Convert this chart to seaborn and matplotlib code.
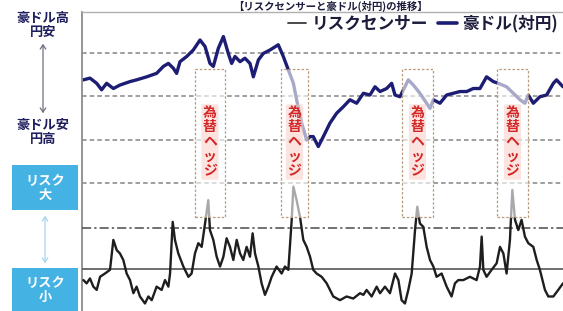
import matplotlib
matplotlib.use("Agg")
import matplotlib.pyplot as plt
import seaborn as sns
from matplotlib.patches import Rectangle, FancyArrowPatch
from matplotlib.lines import Line2D

# ---------------- data ----------------
aud_week = [1.0, 5.7, 10.5, 14.0, 17.6, 22.4, 27.1, 34.3, 39.0, 46.2, 53.3, 58.1,
            61.7, 65.2, 67.6, 70.0, 74.8, 79.5, 84.3, 87.9, 91.4, 93.8, 97.4, 101.0,
            104.5, 106.9, 109.3, 112.9, 116.4, 120.0, 122.4, 126.0, 129.5, 134.3,
            140.2, 143.8, 147.4, 151.0, 153.3, 156.9, 160.5, 162.9, 165.2, 168.8,
            172.4, 177.1, 181.9, 186.7, 191.4, 196.2, 201.0, 205.7, 209.3, 212.9,
            217.6, 221.2, 223.6, 227.1, 230.7, 233.1, 236.7, 241.4, 246.2, 248.6,
            251.0, 255.7, 260.5, 265.2, 270.0, 274.8, 279.5, 284.3, 289.0, 293.8,
            297.4, 303.3, 308.1, 312.9, 316.4, 318.8, 322.4, 327.1, 331.9, 336.7,
            339.0, 343.6]
aud_level = [93.8, 94.2, 93.0, 91.5, 93.0, 91.8, 92.6, 93.4, 93.8, 94.5, 95.3, 96.9,
             97.6, 96.5, 95.3, 98.0, 99.2, 100.7, 103.0, 101.5, 97.6, 96.9, 101.1, 103.8,
             99.9, 97.6, 99.2, 98.0, 98.8, 97.6, 94.5, 98.4, 99.9, 100.7,
             101.9, 99.2, 96.1, 93.0, 89.2, 83.8, 79.9, 80.7, 80.7, 78.4,
             80.7, 83.8, 86.1, 87.6, 89.2, 88.4, 90.7, 90.3, 92.2, 91.1,
             91.8, 93.0, 90.3, 89.9, 92.2, 93.8, 92.6, 90.7, 88.4, 87.2,
             89.2, 88.4, 90.3, 90.7, 91.1, 91.1, 91.8, 91.8, 94.5, 93.4,
             93.0, 92.2, 90.7, 89.2, 88.4, 90.3, 88.4, 89.9, 90.3, 93.0,
             93.8, 92.2]

risk_week = [1.0, 3.3, 5.7, 8.1, 10.5, 12.9, 16.4, 20.0, 22.4, 24.8, 27.1, 29.5,
             31.9, 34.3, 36.7, 39.0, 41.4, 45.0, 47.4, 49.8, 53.3, 56.9, 59.3, 61.7,
             62.9, 64.8, 66.4, 68.8, 72.4, 76.0, 78.3, 80.7, 83.1, 85.5, 87.9, 90.2,
             91.4, 93.8, 96.2, 98.6, 101.0, 103.3, 105.7, 108.1, 110.5, 112.9, 115.2,
             117.6, 120.0, 121.9, 123.6, 126.0, 128.3, 130.7, 133.1, 135.5, 139.0,
             142.6, 145.0, 147.4, 149.8, 151.0, 153.3, 155.7, 158.1, 160.5, 162.9,
             165.2, 167.6, 171.2, 174.8, 179.5, 184.3, 189.0, 193.8, 198.6, 201.0,
             203.3, 206.9, 210.5, 212.9, 216.4, 220.0, 223.6, 226.0, 228.3, 230.7,
             233.1, 235.5, 237.9, 239.5, 241.4, 243.8, 246.2, 248.6, 251.0, 253.3,
             256.9, 260.5, 264.0, 266.4, 268.8, 272.4, 277.1, 281.9, 284.3, 285.5,
             286.7, 289.0, 292.6, 296.2, 298.6, 301.0, 303.3, 305.7, 307.4, 309.3,
             311.7, 314.0, 316.4, 318.8, 322.4, 324.8, 327.1, 330.7, 333.1, 336.7,
             340.2, 343.6]
risk_level = [-0.27, -0.35, -0.23, -0.43, -0.51, -0.19, -0.11, -0.02, 0.71, 0.46, 0.38, 0.22,
              -0.11, -0.27, -0.59, -0.43, -0.67, -0.84, -0.67, -0.76, -0.43, -0.51, -0.27, -0.43,
              -0.11, 1.15, 0.71, 0.38, 0.06, -0.19, -0.11, 0.38, 0.63, 0.54, 1.11, 1.68,
              0.95, 0.71, 0.30, 0.06, 0.30, 0.75, 0.54, 0.22, 0.71, 0.38, 0.22,
              0.54, 0.30, 0.87, 0.38, 0.06, -0.35, -0.63, -0.43, -0.19, 0.06,
              -0.11, 0.06, -0.02, 1.20, 2.01, 1.68, 1.28, 0.71, 0.54, 0.30,
              -0.02, -0.11, -0.19, -0.35, -0.67, -0.76, -0.67, -0.72, -0.59, -0.63,
              -0.51, -0.67, -0.43, -0.59, -0.43, -0.59, -0.11, -0.27, -0.76, -0.84,
              -0.51, -0.11, 0.95, 1.52, 1.11, 1.03, 0.54, 0.22, 0.06, -0.19,
              -0.11, -0.43, -0.67, -0.35, -0.27, -0.27, -0.19, -0.27, 0.06, 0.79,
              -0.02, -0.19, -0.02, 0.14, 0.54, 0.38, -0.11, 0.71, 1.93, 1.20,
              0.95, 1.20, 0.79, 0.63, 0.54, 0.22, -0.02, -0.51, -0.67, -0.67,
              -0.51, -0.35]

hedge_start = [80.7, 142.1, 228.6, 296.4]
hedge_end = [102.1, 161.4, 250.7, 318.6]
hedge_text = "為替ヘッジ"
legend_labels = ["リスクセンサー", "豪ドル(対円)"]
aud_grid = [100, 90, 80, 70]
risk_ref = [1, 0]
title_text = "【リスクセンサーと豪ドル(対円)の推移】"
aud_high_label = "豪ドル高\n円安"
aud_low_label = "豪ドル安\n円高"
risk_high_label = "リスク\n大"
risk_low_label = "リスク\n小"

# ---------------- style ----------------
sns.set_theme(style="white")
plt.rcParams['font.family'] = ['Noto Sans CJK JP', 'DejaVu Sans']

W, H = 563, 311
fig = plt.figure(figsize=(W / 100, H / 100), dpi=100)
ax = fig.add_axes([82 / W, 0, 481 / W, 299 / H])
ax.set_facecolor("white")

navy = "#1d1d74"
sns.lineplot(x=aud_week, y=aud_level, ax=ax, color=navy, lw=2.4, sort=False)
ax.set_xlim(0, 343.6)
ax.set_ylim(40.42, 109.47)
for v in aud_grid:
    ax.axhline(v, color="#858585", lw=1.1, ls=(0, (3, 2)), zorder=0.5)

ax2 = ax.twinx()
sns.lineplot(x=risk_week, y=risk_level, ax=ax2, color="#1e1e1e", lw=1.7, sort=False)
ax2.set_ylim(-1.024, 6.268)
ax2.set_xlim(0, 343.6)
ax2.axhline(risk_ref[0], color="#4a4a4a", lw=1.1, ls=(0, (6, 2, 1.5, 2)), zorder=0.5)
ax2.axhline(risk_ref[1], color="#555555", lw=1.2, zorder=0.5)

for a in (ax, ax2):
    a.set_xticks([])
    a.set_yticks([])
    a.set_xlabel("")
    a.set_ylabel("")
    for s in a.spines.values():
        s.set_visible(False)
ax.spines["left"].set_visible(True)
ax.spines["left"].set_color("#8c8c8c")
ax.spines["left"].set_linewidth(1.3)
ax.spines["top"].set_visible(True)
ax.spines["top"].set_color("#b0b0b0")
ax.spines["top"].set_linewidth(1.0)

# hedge boxes (translucent white overlay)
box_lo, box_hi = (311 - 217) / 299, (311 - 69) / 299
trans = ax2.get_xaxis_transform()
for s, e in zip(hedge_start, hedge_end):
    ax2.axvspan(s, e, ymin=box_lo, ymax=box_hi, facecolor=(1, 1, 1, 0.62),
                edgecolor="#b89a78", ls=(0, (2, 1.5)), lw=0.9, zorder=5)
    ax2.text((s + e) / 2, (311 - 142) / 299, "\n".join(hedge_text), transform=trans,
             ha="center", va="center", color="#d42626", fontsize=10, fontweight="bold",
             linespacing=1.05, zorder=6,
             bbox=dict(boxstyle="round,pad=0.12", fc="#f7c4bc", ec="none", alpha=0.45))

# legend
handles = [Line2D([], [], color="#3a3a3a", lw=1.3), Line2D([], [], color=navy, lw=2.6)]
leg = ax2.legend(handles, legend_labels, ncol=2, frameon=False, loc="center right",
                 bbox_to_anchor=(558 / W, 1 - 24 / H), bbox_transform=fig.transFigure,
                 fontsize=12, handlelength=1.1, handletextpad=0.35, columnspacing=0.6,
                 borderaxespad=0, borderpad=0)
for t in leg.get_texts():
    t.set_color("#1c1c3c")
    t.set_fontweight("bold")

# left side annotations
def fy(y):
    return 1 - y / H

fig.text(43 / W, fy(25), aud_high_label, ha="center", va="center", fontsize=9.5,
         color="#1e1e5e", fontweight="bold", linespacing=1.0)
fig.text(43 / W, fy(132), aud_low_label, ha="center", va="center", fontsize=9.5,
         color="#1e1e5e", fontweight="bold", linespacing=1.0)
fig.add_artist(FancyArrowPatch((43 / W, fy(41)), (43 / W, fy(116)), transform=fig.transFigure,
                               arrowstyle="<->,head_length=3,head_width=2", color="#6e6e7e",
                               lw=0.9, mutation_scale=1))

blue = "#45b2e4"
fig.add_artist(Rectangle((12 / W, fy(210)), 66 / W, 45 / H, transform=fig.transFigure,
                         facecolor=blue, edgecolor="none"))
fig.add_artist(Rectangle((12 / W, fy(315)), 66 / W, 47 / H, transform=fig.transFigure,
                         facecolor=blue, edgecolor="none"))
fig.text(45 / W, fy(188), risk_high_label, ha="center", va="center", fontsize=9.5,
         color="white", fontweight="bold", linespacing=1.0)
fig.text(45 / W, fy(290), risk_low_label, ha="center", va="center", fontsize=9.5,
         color="white", fontweight="bold", linespacing=1.0)
fig.add_artist(FancyArrowPatch((45 / W, fy(213)), (45 / W, fy(266)), transform=fig.transFigure,
                               arrowstyle="<->,head_length=3,head_width=2", color="#a6d4ee",
                               lw=0.9, mutation_scale=1))

fig.text(330 / W, fy(0.5), title_text, ha="center", va="top", fontsize=7.5,
         color="#1c1c3c", fontweight="bold")

fig.savefig("out.png", dpi=100)
